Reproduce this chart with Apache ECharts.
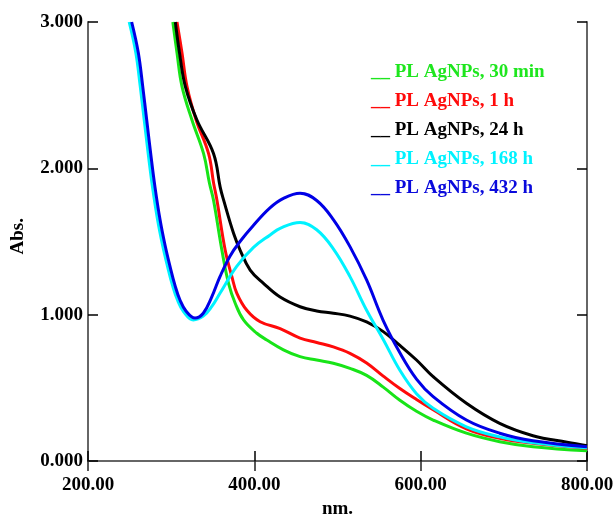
<!DOCTYPE html>
<html>
<head>
<meta charset="utf-8">
<script src="https://cdn.jsdelivr.net/npm/echarts@6/dist/echarts.min.js"></script>
<style>html,body{margin:0;padding:0;background:#fff;}#c{width:616px;height:515px;}</style>
</head>
<body>
<div id="c"></div>
<script>
// Series names and colours
var seriesNames = ['PL AgNPs, 30 min', 'PL AgNPs, 1 h', 'PL AgNPs, 24 h', 'PL AgNPs, 168 h', 'PL AgNPs, 432 h'];
var lineColors = ['#18e418', '#ff0a0a', '#000000', '#00f2ff', '#0000e6'];
var textColors = ['#1ee61e', '#ff0a0a', '#000000', '#00f2ff', '#0a0adc'];

// Wavelengths (nm) and absorbance per series
var nm30min = [302, 307, 313, 325, 339, 346, 351, 361, 369, 377, 387, 403, 415, 435, 455, 475, 495, 515, 535, 555, 575, 595, 615, 655, 695, 735, 800];
var abs30min = [3.0, 2.79, 2.56, 2.33, 2.10, 1.90, 1.78, 1.44, 1.214, 1.078, 0.964, 0.873, 0.827, 0.76, 0.713, 0.69, 0.668, 0.633, 0.585, 0.505, 0.415, 0.34, 0.28, 0.19, 0.132, 0.098, 0.07];

var nm1h = [307, 313, 319, 330, 345, 351, 355, 365, 373, 379, 391, 407, 431, 455, 475, 495, 515, 535, 555, 575, 595, 615, 655, 695, 735, 800];
var abs1h = [3.0, 2.79, 2.56, 2.33, 2.10, 1.90, 1.784, 1.44, 1.26, 1.146, 1.03, 0.952, 0.905, 0.84, 0.81, 0.78, 0.736, 0.67, 0.58, 0.495, 0.42, 0.35, 0.22, 0.155, 0.121, 0.087];

var nm24h = [305, 310, 317, 331, 351, 359, 363, 375, 383, 395, 411, 431, 455, 475, 495, 515, 535, 555, 575, 595, 615, 655, 695, 735, 776, 800];
var abs24h = [3.0, 2.79, 2.56, 2.33, 2.10, 1.87, 1.784, 1.556, 1.44, 1.305, 1.214, 1.12, 1.054, 1.025, 1.01, 0.99, 0.95, 0.884, 0.79, 0.69, 0.576, 0.394, 0.257, 0.173, 0.128, 0.105];

var nm168h = [249.5, 257.5, 262.8, 267.6, 272.4, 277.6, 283.6, 289.6, 295.6, 301.6, 307.6, 315, 326.6, 338.6, 348.7, 358.7, 378.8, 399, 419, 431, 455, 475, 495, 515, 535, 555, 575, 595, 615, 655, 695, 735, 800];
var abs168h = [3.0, 2.79, 2.56, 2.33, 2.10, 1.87, 1.65, 1.476, 1.33, 1.20, 1.10, 1.02, 0.964, 0.99, 1.055, 1.146, 1.33, 1.46, 1.545, 1.59, 1.63, 1.58, 1.45, 1.26, 1.03, 0.83, 0.62, 0.46, 0.36, 0.234, 0.165, 0.125, 0.09];

var nm432h = [252.5, 260.5, 265.8, 270.6, 275.4, 280.6, 286.6, 292.6, 298.6, 304.6, 310.6, 317.8, 328.7, 338.6, 348.7, 358.7, 370.7, 382.8, 398.8, 418.8, 435, 455, 475, 495, 515, 535, 555, 575, 595, 615, 655, 695, 735, 800];
var abs432h = [3.0, 2.79, 2.56, 2.33, 2.10, 1.87, 1.65, 1.476, 1.33, 1.20, 1.10, 1.025, 0.977, 1.01, 1.12, 1.26, 1.40, 1.50, 1.61, 1.73, 1.795, 1.83, 1.78, 1.65, 1.465, 1.237, 0.96, 0.74, 0.56, 0.44, 0.28, 0.19, 0.139, 0.098];

var xTicks = [200, 400, 600, 800];
var yTicks = [0, 1, 2, 3];

var xs = [nm30min, nm1h, nm24h, nm168h, nm432h];
var ys = [abs30min, abs1h, abs24h, abs168h, abs432h];

var FONT = '"Liberation Serif", "Times New Roman", serif';
var chart = echarts.init(document.getElementById('c'), null, {renderer: 'canvas'});

function pairs(a, b) { return a.map(function (v, i) { return [v, b[i]]; }); }

var series = seriesNames.map(function (n, i) {
  return {
    name: n, type: 'line', xAxisIndex: 0, yAxisIndex: 0,
    data: pairs(xs[i], ys[i]),
    showSymbol: false, symbol: 'none',
    smooth: 0.4,
    lineStyle: {color: lineColors[i], width: 3},
    itemStyle: {color: lineColors[i]},
    z: 2 + i
  };
});

var labelStyle = {fontFamily: FONT, fontWeight: 'bold', fontSize: 19, color: '#000'};

chart.setOption({
  animation: false,
  backgroundColor: '#fff',
  grid: {left: 88, right: 29, top: 22, bottom: 54, containLabel: false, outerBoundsMode: 'none'},
  xAxis: [{
    type: 'value', min: xTicks[0], max: xTicks[xTicks.length - 1], interval: 200,
    position: 'bottom',
    axisLine: {show: true, lineStyle: {color: '#111', width: 2}},
    axisTick: {show: true, inside: true, length: 10, lineStyle: {color: '#000', width: 1.5}},
    axisLabel: Object.assign({margin: 15, formatter: function (v) { return v.toFixed(2); }}, labelStyle),
    splitLine: {show: false},
    name: 'nm.', nameLocation: 'middle', nameGap: 34,
    nameTextStyle: labelStyle
  }, {
    type: 'value', min: xTicks[0], max: xTicks[xTicks.length - 1], interval: 200,
    position: 'top',
    axisLine: {show: true, lineStyle: {color: '#666', width: 2}},
    axisTick: {show: true, inside: true, length: 10, lineStyle: {color: '#222', width: 1.5}},
    axisLabel: {show: false}, splitLine: {show: false}
  }],
  yAxis: [{
    type: 'value', min: yTicks[0], max: yTicks[yTicks.length - 1], interval: 1,
    position: 'left',
    axisLine: {show: true, lineStyle: {color: '#666', width: 2}},
    axisTick: {show: true, inside: true, length: 10, lineStyle: {color: '#000', width: 1.5}},
    axisLabel: Object.assign({margin: 5, formatter: function (v) { return v.toFixed(3); }}, labelStyle),
    splitLine: {show: false}
  }, {
    type: 'value', min: yTicks[0], max: yTicks[yTicks.length - 1], interval: 1,
    position: 'right',
    axisLine: {show: true, lineStyle: {color: '#666', width: 2}},
    axisTick: {show: true, inside: true, length: 10, lineStyle: {color: '#000', width: 1.5}},
    axisLabel: {show: false}, splitLine: {show: false}
  }],
  legend: {
    orient: 'vertical', left: 361, top: 58,
    itemWidth: 0, itemHeight: 19, itemGap: 10, icon: 'rect',
    selectedMode: false,
    formatter: function (n) { return '__ ' + n; },
    textStyle: {fontFamily: FONT, fontWeight: 'bold', fontSize: 19},
    data: seriesNames.map(function (n, i) {
      return {name: n, itemStyle: {opacity: 0}, textStyle: {color: textColors[i]}};
    })
  },
  graphic: [{
    type: 'text', left: 9, top: 218, rotation: Math.PI / 2,
    style: {text: 'Abs.', font: 'bold 19px ' + FONT, fill: '#000'}
  }],
  series: series
});
</script>
</body>
</html>
